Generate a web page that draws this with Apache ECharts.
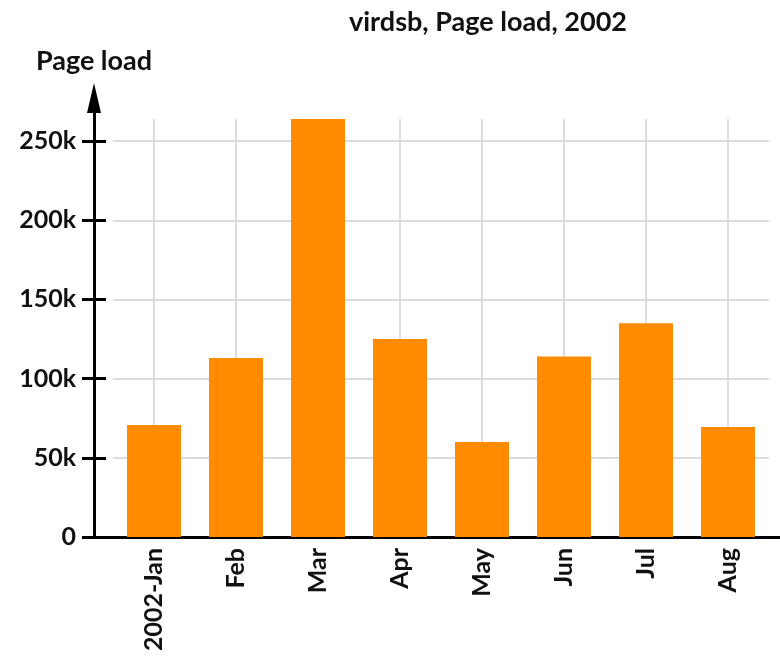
<!DOCTYPE html>
<html>
<head>
<meta charset="utf-8">
<script src="https://cdn.jsdelivr.net/npm/echarts@6/dist/echarts.min.js"></script>
<style>
    html, body { margin: 0; padding: 0; background: #fff; }
    #main { width: 780px; height: 662px; }
</style>
</head>
<body>
<div id="main"></div>
<script>
var months = ['2002-Jan', 'Feb', 'Mar', 'Apr', 'May', 'Jun', 'Jul', 'Aug'];
var pageLoad = [70700, 113000, 264000, 125000, 60000, 114000, 135000, 69500];
var yTicks = [0, 50000, 100000, 150000, 200000, 250000];

var font = 'Lato';
var ink = '#111';

var chart = echarts.init(document.getElementById('main'));
chart.setOption({
    animation: false,
    title: {
        text: 'virdsb, Page load, 2002',
        left: 344,
        top: 4,
        textStyle: { fontFamily: font, fontWeight: 'bold', fontSize: 27, color: ink }
    },
    grid: [
        // plot area: bars + grid lines
        { left: 113, right: 11, top: 119, bottom: 125 },
        // axis frame: black axis lines with arrow
        { left: 94, right: 0, top: 98, bottom: 125 }
    ],
    xAxis: [
        {
            type: 'category',
            gridIndex: 0,
            data: months,
            axisLine: { show: false },
            axisTick: { show: false },
            axisLabel: {
                rotate: 90,
                margin: 11,
                fontFamily: font,
                fontWeight: 'bold',
                fontSize: 25,
                color: ink
            },
            splitLine: {
                show: true,
                alignWithLabel: true,
                lineStyle: { color: '#dcdcdc', width: 2 }
            }
        },
        {
            type: 'value',
            gridIndex: 1,
            min: 0,
            max: 1,
            axisLine: { show: true, lineStyle: { color: '#000', width: 3 } },
            axisTick: { show: false },
            axisLabel: { show: false },
            splitLine: { show: false }
        }
    ],
    yAxis: [
        {
            type: 'value',
            gridIndex: 0,
            min: 0,
            max: 264000,
            interval: 50000,
            offset: 19,
            axisLine: { show: false },
            axisTick: {
                show: true,
                inside: true,
                length: 12,
                customValues: yTicks,
                lineStyle: { color: '#000', width: 3 }
            },
            axisLabel: { show: false },
            splitLine: {
                show: true,
                lineStyle: { color: '#dcdcdc', width: 2 }
            }
        },
        {
            type: 'value',
            gridIndex: 1,
            min: 0,
            max: 277000,
            interval: 50000,
            name: 'Page load',
            nameLocation: 'end',
            nameGap: 23,
            nameTextStyle: { fontFamily: font, fontWeight: 'bold', fontSize: 27, color: ink },
            axisLine: {
                show: true,
                symbol: ['none', 'triangle'],
                symbolSize: [14, 30],
                lineStyle: { color: '#000', width: 3 }
            },
            axisTick: {
                show: true,
                length: 12,
                customValues: yTicks,
                lineStyle: { color: '#000', width: 3 }
            },
            axisLabel: {
                margin: 18,
                customValues: yTicks,
                fontFamily: font,
                fontWeight: 'bold',
                fontSize: 25,
                color: ink,
                formatter: function (v) { return v === 0 ? '0' : (v / 1000) + 'k'; }
            },
            splitLine: { show: false }
        }
    ],
    series: [
        {
            name: 'Page load',
            type: 'bar',
            xAxisIndex: 0,
            yAxisIndex: 0,
            barWidth: 54,
            itemStyle: { color: '#ff8c00' },
            data: pageLoad
        }
    ]
});
</script>
</body>
</html>
